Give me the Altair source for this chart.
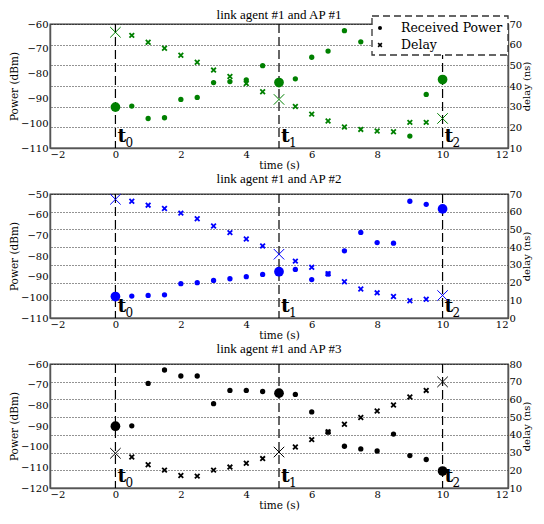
import altair as alt
import pandas as pd

# ---- data ----
t = [0, 0.5, 1, 1.5, 2, 2.5, 3, 3.5, 4, 4.5, 5, 5.5, 6, 6.5, 7, 7.5, 8, 8.5, 9, 9.5, 10]

power_ap1 = [-93.5, -93.1, -98.1, -97.8, -90.4, -89.6, -83.6, -83.2, -82.5, -76.8, -83.6,
             -82.1, -73.4, -70.9, -62.7, -67.2, None, None, -105.2, -88.4, -82.4]
delay_ap1 = [66.0, 64.5, 61.2, 58.3, 54.9, 51.5, 47.7, 44.6, 41.2, 37.2, 33.5,
             30.1, 26.4, 23.1, 20.2, 19.0, 18.2, 17.9, 22.4, 22.4, 24.3]

power_ap2 = [-99.6, -99.4, -99.1, -98.8, -93.4, -92.9, -91.8, -91.0, -90.0, -88.9, -87.6,
             -86.5, -91.4, -88.7, -77.5, -68.6, -73.5, -73.8, -53.5, -55.0, -57.2]
delay_ap2 = [67.0, 65.9, 63.7, 61.8, 59.2, 56.0, 51.9, 48.2, 44.6, 40.7, 36.0,
             32.1, 28.6, 25.0, 20.5, 16.4, 14.2, 12.1, 9.7, 10.6, 12.7]

power_ap3 = [-90.1, -89.9, -69.4, -62.9, -65.8, -65.8, -79.2, -72.8, -72.8, -73.3, -74.1,
             -74.7, -83.2, -93.0, -99.8, -101.1, -102.1, -93.9, -104.3, -106.2, -111.8]
delay_ap3 = [29.6, 27.5, 23.1, 20.1, 17.1, 16.7, 20.1, 21.8, 24.0, 26.6, 30.3,
             33.1, 37.3, 41.7, 46.0, 49.8, 53.5, 56.9, 61.4, 65.1, 69.9]

titles = ["link agent #1 and AP #1", "link agent #1 and AP #2", "link agent #1 and AP #3"]
colors = ["#008000", "#0000ff", "#000000"]
power_domains = [[-110, -60], [-110, -50], [-120, -60]]
delay_domains = [[10, 70], [0, 70], [10, 80]]
event_times = [0, 5, 10]
event_subs = ["0", "1", "2"]
legend_labels = ["Received Power", "Delay"]
x_ticks = [-2, 0, 2, 4, 6, 8, 10, 12]

W, H = 458, 124
XPATH = "M-1,-1L1,1M-1,1L1,-1"
SERIF = "DejaVu Serif"


def panel(i, power, delay, with_legend):
    col = colors[i]
    df = pd.DataFrame({"time": t, "power": power, "delay": delay})
    df["kind"] = ["big" if v in event_times else "small" for v in t]
    pmin, pmax = power_domains[i]
    dmin, dmax = delay_domains[i]

    xenc = alt.X("time:Q", scale=alt.Scale(domain=[-2, 12], nice=False),
                 axis=alt.Axis(values=x_ticks, title="time (s)", grid=False, format="d",
                               labelPadding=1, titlePadding=1))

    pw = alt.Chart(df).transform_filter("isValid(datum.power)").mark_circle(
        color=col, opacity=1).encode(
        x=xenc,
        y=alt.Y("power:Q", scale=alt.Scale(domain=[pmin, pmax], nice=False, zero=False),
                axis=alt.Axis(orient="left", title="Power (dBm)", grid=False, titlePadding=1,
                              values=list(range(pmin, pmax + 1, 10)))),
        size=alt.Size("kind:N", scale=alt.Scale(domain=["small", "big"], range=[28, 95]), legend=None),
    )

    dl = alt.Chart(df).mark_point(shape=XPATH, filled=False, color=col, opacity=1).encode(
        x=xenc,
        y=alt.Y("delay:Q", scale=alt.Scale(domain=[dmin, dmax], nice=False, zero=False),
                axis=alt.Axis(orient="right", title="delay (ns)", grid=True,
                              gridDash=[1, 2], gridColor="#000000", gridOpacity=0.85,
                              gridWidth=1, titleAngle=270, titleBaseline="top",
                              labelPadding=1, titlePadding=0, titleFontSize=10,
                              values=list(range(dmin, dmax + 1, 10)))),
        size=alt.Size("kind:N", scale=alt.Scale(domain=["small", "big"], range=[22, 110]), legend=None),
        strokeWidth=alt.StrokeWidth("kind:N", scale=alt.Scale(domain=["small", "big"], range=[1.8, 1.0]),
                                    legend=None),
    )

    ev = pd.DataFrame({"time": event_times, "sub": event_subs})
    rules = alt.Chart(ev).mark_rule(color="#000000", strokeDash=[9, 4], strokeWidth=1.2).encode(
        x="time:Q")
    tlab = alt.Chart(ev).mark_text(text="t", align="left", baseline="alphabetic", dx=2,
                                    fontSize=19, fontWeight="bold", font=SERIF, color="#000000").encode(
        x="time:Q", y=alt.value(H - 6))
    tsub = alt.Chart(ev).mark_text(align="left", baseline="alphabetic", dx=10,
                                    fontSize=12, font=SERIF, color="#000000").encode(
        x="time:Q", y=alt.value(H - 1), text="sub:N")

    layers = [rules, tlab, tsub, pw, dl]
    title_offset = 3

    if with_legend:
        title_offset = -7
        one = pd.DataFrame({"a": [0]})
        box = alt.Chart(one).mark_rect(fill="white", stroke="#333333", strokeDash=[7, 4],
                                        strokeWidth=1.3).encode(
            x=alt.value(W - 136), x2=alt.value(W), y=alt.value(-8), y2=alt.value(31))
        layers.append(box)
        for j, lab in enumerate(legend_labels):
            yy = 4 + 17 * j
            if j == 0:
                sym = alt.Chart(one).mark_circle(color="#000000", size=16, opacity=1).encode(
                    x=alt.value(W - 128), y=alt.value(yy))
            else:
                sym = alt.Chart(one).mark_point(shape=XPATH, filled=False, color="#000000",
                                                size=14, strokeWidth=1.6, opacity=1).encode(
                    x=alt.value(W - 128), y=alt.value(yy))
            txt = alt.Chart(pd.DataFrame({"label": [lab]})).mark_text(
                align="left", baseline="middle", fontSize=12.5, font=SERIF, color="#000000").encode(
                x=alt.value(W - 107), y=alt.value(yy), text="label:N")
            layers += [sym, txt]

    return alt.layer(*layers).resolve_scale(y="independent", size="independent",
                                            strokeWidth="independent").properties(
        width=W, height=H,
        title=alt.TitleParams(titles[i], font="Liberation Serif", fontSize=13,
                              fontWeight="normal", offset=title_offset, frame="group",
                              color="#000000"))


chart = alt.vconcat(
    panel(0, power_ap1, delay_ap1, True),
    panel(1, power_ap2, delay_ap2, False),
    panel(2, power_ap3, delay_ap3, False),
    spacing=0,
).properties(padding={"left": 0, "top": 0, "right": 0, "bottom": 0}).configure_view(
    stroke="#333333", strokeWidth=1.3
).configure_axis(
    labelFont=SERIF, labelFontSize=10, labelColor="#000000",
    titleFont=SERIF, titleFontSize=10.5, titleFontWeight="normal", titleColor="#000000",
    domainColor="#555555", domainWidth=1.5, ticks=False, labelPadding=2, titlePadding=3,
)

chart.save("out.html", embed_options={"renderer": "svg", "actions": False})
